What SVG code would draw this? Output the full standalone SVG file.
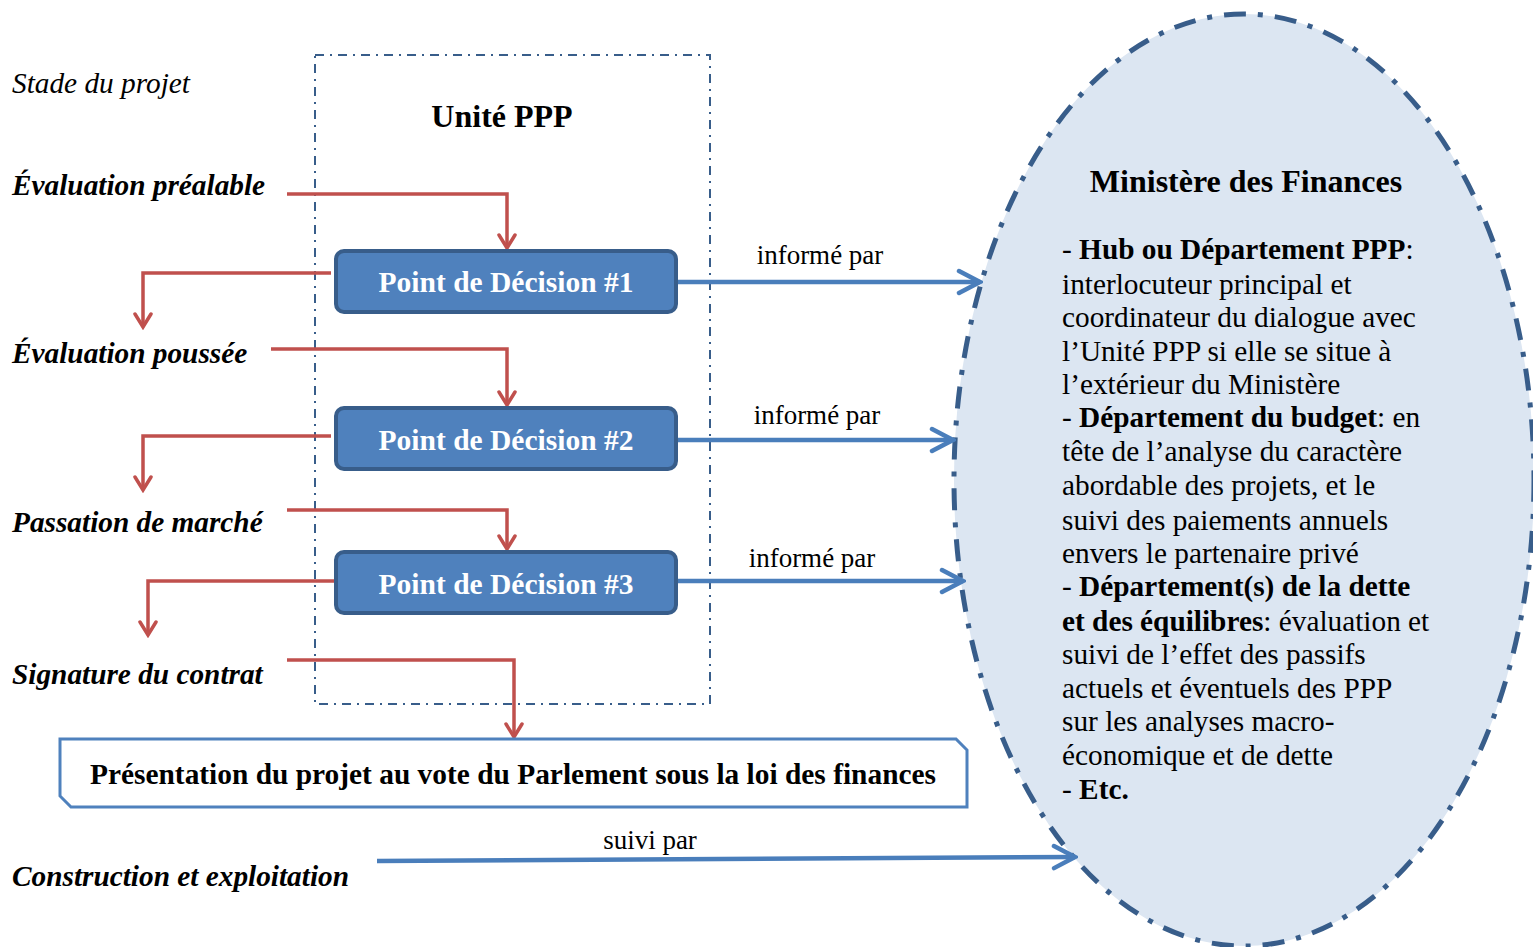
<svg xmlns="http://www.w3.org/2000/svg" width="1533" height="947" viewBox="0 0 1533 947">
  <defs>
    <style>
      text { font-family: "Liberation Serif", "Times New Roman", serif; fill: #000; }
      .stage { font-size: 29.3px; font-style: italic; font-weight: bold; }
      .stage-title { font-size: 29.3px; font-style: italic; }
      .title { font-size: 32px; font-weight: bold; }
      .dp-box { fill: #4F81BD; stroke: #385D8A; stroke-width: 4; }
      .dp-text { font-size: 29.5px; font-weight: bold; fill: #fff; text-anchor: middle; }
      .red { fill: none; stroke: #C0504D; stroke-width: 3.5; marker-end: url(#redHead); }
      .blue { fill: none; stroke: #4A7EBB; stroke-width: 4.5; marker-end: url(#blueHead); }
      .lbl { font-size: 27px; text-anchor: middle; }
      .body { font-size: 29.3px; }
      .b { font-weight: bold; }
    </style>
    <marker id="redHead" viewBox="0 0 20 20" refX="17" refY="10" markerWidth="20" markerHeight="20" markerUnits="userSpaceOnUse" orient="auto">
      <path d="M4 2 L17 10 L4 18" fill="none" stroke="#C0504D" stroke-width="3.5" stroke-linecap="round" stroke-linejoin="miter"/>
    </marker>
    <marker id="blueHead" viewBox="0 0 28 28" refX="25" refY="14" markerWidth="28" markerHeight="28" markerUnits="userSpaceOnUse" orient="auto">
      <path d="M4 3 L25 14 L4 25" fill="none" stroke="#4A7EBB" stroke-width="4.5" stroke-linecap="round" stroke-linejoin="miter"/>
    </marker>
  </defs>

  <rect width="1533" height="947" fill="#fff"/>

  <!-- Ministry of Finance ellipse -->
  <g id="ministere">
    <ellipse cx="1244" cy="480" rx="290" ry="466" fill="#DCE6F2" stroke="#385D8A" stroke-width="5" stroke-dasharray="22 12 5 12"/>
    <text x="1246" y="192" class="title" text-anchor="middle">Ministère des Finances</text>
    <text class="body">
      <tspan x="1062" y="259">- <tspan class="b">Hub ou Département PPP</tspan>:</tspan>
      <tspan x="1062" y="294">interlocuteur principal et</tspan>
      <tspan x="1062" y="327">coordinateur du dialogue avec</tspan>
      <tspan x="1062" y="361">l’Unité PPP si elle se situe à</tspan>
      <tspan x="1062" y="394">l’extérieur du Ministère</tspan>
      <tspan x="1062" y="427">- <tspan class="b">Département du budget</tspan>: en</tspan>
      <tspan x="1062" y="461">tête de l’analyse du caractère</tspan>
      <tspan x="1062" y="495">abordable des projets, et le</tspan>
      <tspan x="1062" y="530">suivi des paiements annuels</tspan>
      <tspan x="1062" y="563">envers le partenaire privé</tspan>
      <tspan x="1062" y="596">- <tspan class="b">Département(s) de la dette</tspan></tspan>
      <tspan x="1062" y="631"><tspan class="b">et des équilibres</tspan>: évaluation et</tspan>
      <tspan x="1062" y="664">suivi de l’effet des passifs</tspan>
      <tspan x="1062" y="698">actuels et éventuels des PPP</tspan>
      <tspan x="1062" y="731">sur les analyses macro-</tspan>
      <tspan x="1062" y="765">économique et de dette</tspan>
      <tspan x="1062" y="799">- <tspan class="b">Etc.</tspan></tspan>
    </text>
  </g>

  <!-- PPP unit frame -->
  <g id="unite-ppp">
    <rect x="315" y="55" width="395" height="649" fill="none" stroke="#385D8A" stroke-width="2" stroke-dasharray="9 6 2 6"/>
    <text x="502" y="127" class="title" text-anchor="middle">Unité PPP</text>
  </g>

  <!-- Project stages -->
  <g id="stades">
    <text x="12" y="93" class="stage-title">Stade du projet</text>
    <text x="12" y="195" class="stage">Évaluation préalable</text>
    <text x="12" y="363" class="stage">Évaluation poussée</text>
    <text x="12" y="532" class="stage">Passation de marché</text>
    <text x="12" y="684" class="stage">Signature du contrat</text>
    <text x="12" y="886" class="stage">Construction et exploitation</text>
  </g>

  <!-- Connectors -->
  <g id="connecteurs">
    <path class="red" d="M287 194 H507 V248"/>
    <path class="red" d="M331 273 H143 V327"/>
    <path class="red" d="M271 349 H507 V405"/>
    <path class="red" d="M331 436 H143 V490"/>
    <path class="red" d="M287 510 H507 V549"/>
    <path class="red" d="M335 581 H148 V635"/>
    <path class="red" d="M287 660 H514 V737"/>

    <path class="blue" d="M677 282 H980"/>
    <path class="blue" d="M677 440 H953"/>
    <path class="blue" d="M677 581 H963"/>
    <path class="blue" d="M377 861 L1075 857"/>

    <text x="820" y="264" class="lbl">informé par</text>
    <text x="817" y="424" class="lbl">informé par</text>
    <text x="812" y="567" class="lbl">informé par</text>
    <text x="650" y="849" class="lbl">suivi par</text>
  </g>

  <!-- Decision points -->
  <g id="pd1">
    <rect x="336" y="251" width="340" height="61" rx="8" class="dp-box"/>
    <text x="506" y="292" class="dp-text">Point de Décision #1</text>
  </g>
  <g id="pd2">
    <rect x="336" y="408" width="340" height="61" rx="8" class="dp-box"/>
    <text x="506" y="450" class="dp-text">Point de Décision #2</text>
  </g>
  <g id="pd3">
    <rect x="336" y="552" width="340" height="61" rx="8" class="dp-box"/>
    <text x="506" y="594" class="dp-text">Point de Décision #3</text>
  </g>

  <!-- Parliament vote -->
  <g id="parlement">
    <path d="M60 739 H956 L967 750 V807 H71 L60 796 Z" fill="#fff" stroke="#4F81BD" stroke-width="3"/>
    <text x="513" y="784" class="b" style="font-size:29.4px" text-anchor="middle">Présentation du projet au vote du Parlement sous la loi des finances</text>
  </g>
</svg>
